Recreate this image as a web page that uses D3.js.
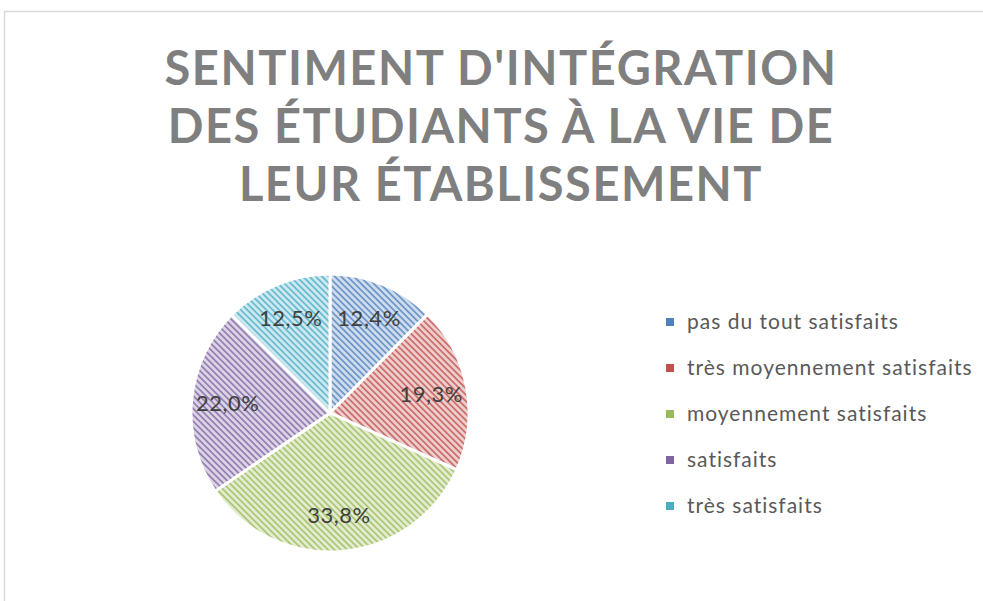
<!DOCTYPE html>
<html>
<head>
<meta charset="utf-8">
<script src="https://cdn.jsdelivr.net/npm/d3@7"></script>
<style>
  body { margin: 0; background: #fff; }
  svg { display: block; }
</style>
</head>
<body>
<svg id="chart" width="983" height="601"></svg>
<script>
// data
var categories = ["pas du tout satisfaits", "très moyennement satisfaits",
    "moyennement satisfaits", "satisfaits", "très satisfaits"];
var values = [12.4, 19.3, 33.8, 22.0, 12.5];
var colors = ["#4F81BD", "#C0504D", "#9BBB59", "#8064A2", "#4BACC6"];
var titleLines = ["SENTIMENT D'INTÉGRATION", "DES ÉTUDIANTS À LA VIE DE", "LEUR ÉTABLISSEMENT"];

var svg = d3.select("#chart");

// chart frame (only top and left visible)
svg.append("path")
    .attr("d", "M4.5,601 L4.5,11.5 L983,11.5")
    .attr("fill", "none")
    .attr("stroke", "#d9d9d9")
    .attr("stroke-width", 1.5);

// hatch patterns
var defs = svg.append("defs");
colors.forEach(function(c, i){
    var p = defs.append("pattern")
        .attr("id", "hatch" + i)
        .attr("patternUnits", "userSpaceOnUse")
        .attr("width", 4.5)
        .attr("height", 4.5)
        .attr("patternTransform", "rotate(-45)");
    p.append("rect")
        .attr("width", 4.5).attr("height", 4.5)
        .attr("fill", d3.interpolateRgb(c, "#fff")(0.72));
    p.append("rect")
        .attr("width", 1.8).attr("height", 4.5)
        .attr("fill", c)
        .attr("opacity", 0.75);
});

// title
var title = svg.append("text")
    .attr("text-anchor", "middle")
    .attr("font-family", "Lato, 'Open Sans', sans-serif")
    .attr("font-weight", "bold")
    .attr("font-size", "47px")
    .attr("fill", "#7f7f7f");

titleLines.forEach(function(t, i){
    title.append("tspan")
        .attr("x", 501)
        .attr("y", 85 + i * 58)
        .text(t);
});

// fit the first line to the reference width via letter spacing
var natural = title.select("tspan").node().getComputedTextLength();
var spacing = (673 - natural) / (titleLines[0].length);
title.attr("letter-spacing", spacing + "px");

// pie
var cx = 330, cy = 413, radius = 139;
var pie = d3.pie().sort(null).value(d => d.value);
var arc = d3.arc().innerRadius(0).outerRadius(radius);
var labelArc = d3.arc().innerRadius(radius * 0.74).outerRadius(radius * 0.74);

var pieData = pie(categories.map((c, i) => ({category: c, value: values[i], idx: i})));

var g = svg.append("g").attr("transform", `translate(${cx},${cy})`);

g.selectAll("path.slice")
    .data(pieData)
    .enter()
    .append("path")
    .attr("class", "slice")
    .attr("d", arc)
    .attr("fill", d => `url(#hatch${d.data.idx})`)
    .attr("stroke", "#fff")
    .attr("stroke-width", 3);

g.selectAll("text.lbl")
    .data(pieData)
    .enter()
    .append("text")
    .attr("class", "lbl")
    .attr("transform", d => `translate(${labelArc.centroid(d)})`)
    .attr("text-anchor", "middle")
    .attr("dy", "0.35em")
    .attr("font-family", "Lato, 'Open Sans', sans-serif")
    .attr("font-size", "22px")
    .attr("letter-spacing", "0.5px")
    .attr("fill", "#404040")
    .text(d => d.data.value.toFixed(1).replace(".", ",") + "%");

// legend
var legendY = d3.scalePoint()
    .domain(categories)
    .range([322, 506]);

var legend = svg.selectAll("g.legend")
    .data(categories)
    .enter()
    .append("g")
    .attr("class", "legend")
    .attr("transform", d => `translate(666, ${legendY(d)})`);

legend.append("rect")
    .attr("x", 0)
    .attr("y", -4)
    .attr("width", 8)
    .attr("height", 8)
    .attr("fill", (d, i) => colors[i]);

legend.append("text")
    .attr("x", 21)
    .attr("dy", "0.35em")
    .attr("font-family", "Lato, 'Open Sans', sans-serif")
    .attr("font-size", "21px")
    .attr("letter-spacing", "1px")
    .attr("fill", "#595959")
    .text(d => d);
</script>
</body>
</html>
